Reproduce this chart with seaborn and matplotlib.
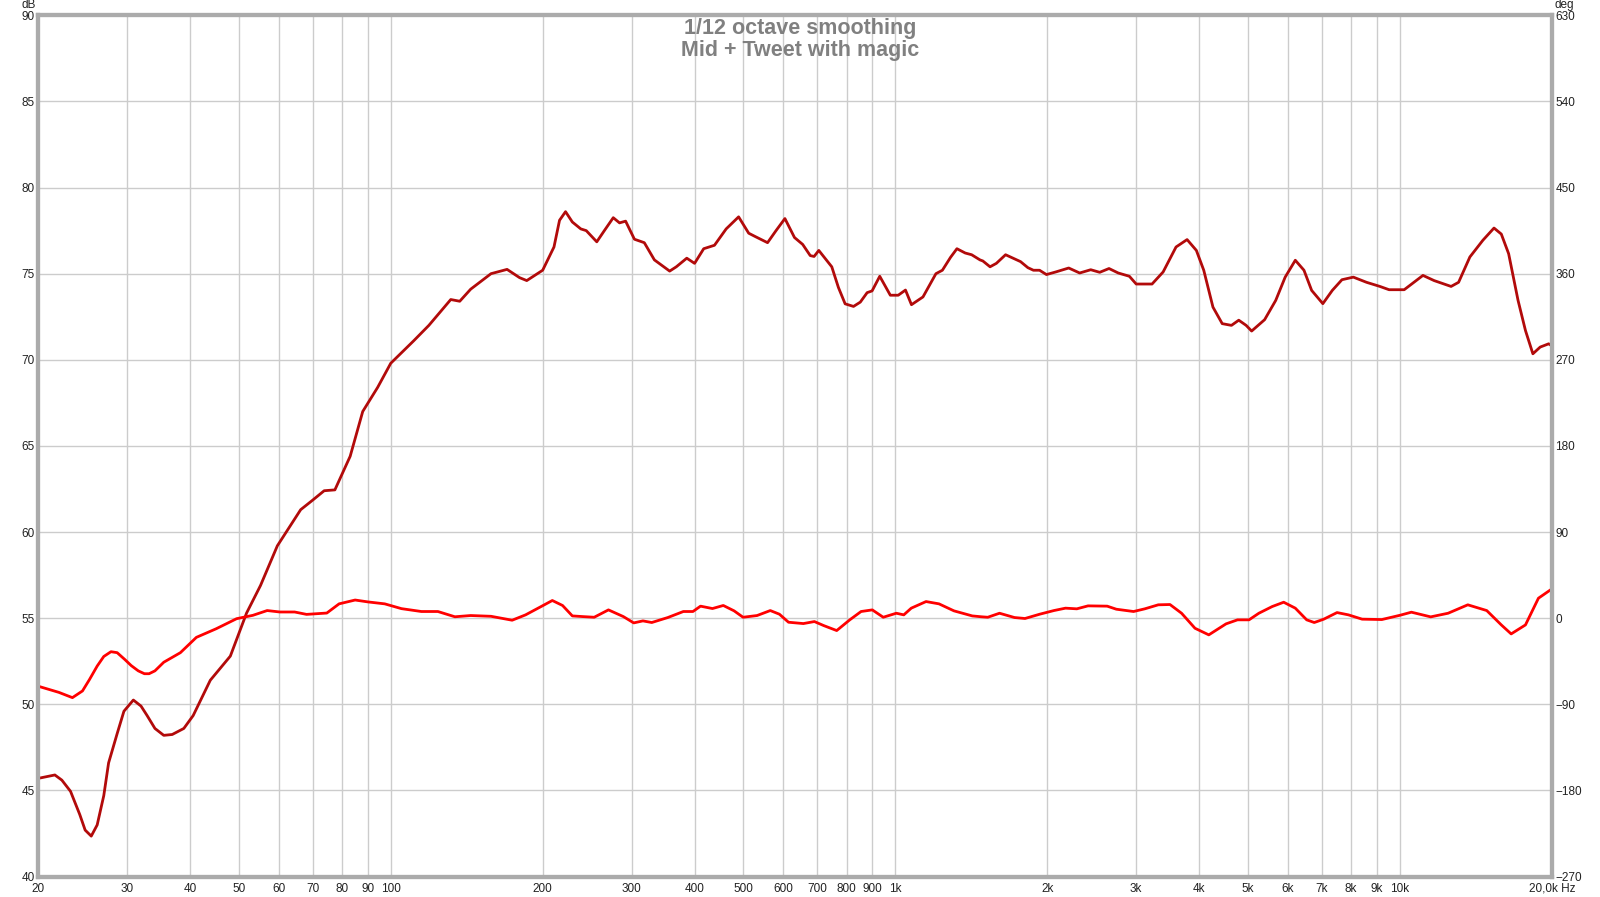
import matplotlib
matplotlib.use("Agg")
import matplotlib.pyplot as plt
import seaborn as sns

# magnitude (dB)
mag_freq = [20, 21.6, 22.3, 23.2, 24.2, 24.8, 25.5, 26.2, 27.0, 27.6, 28.7, 29.6, 30.9, 32.0,
            32.9, 34.1, 35.5, 36.9, 38.9, 40.6, 43.9, 48.1, 51.8,
            55.2, 59.6, 66.3, 70, 73.8, 77.5, 83.1, 88, 94.2, 100, 111, 119, 131.5, 137, 144,
            158, 170, 180, 186, 200, 210.6, 216, 222, 229, 238, 244, 256, 265, 276, 284, 292,
            304, 318, 333, 357, 368, 386, 400, 417, 438, 462, 489, 512, 528, 558, 580, 604,
            631, 655, 678, 690, 705, 725, 748, 771, 795, 826, 852, 879, 899, 931, 977, 1013,
            1047, 1076, 1134, 1203, 1239, 1286, 1324, 1375, 1416, 1471, 1490, 1540, 1585,
            1653, 1770, 1830, 1877, 1930, 1992, 2078, 2205, 2318, 2438, 2540, 2650, 2764,
            2908, 3000, 3225, 3392, 3598, 3784, 3948, 4083, 4258, 4442, 4633, 4790, 4954,
            5080, 5390, 5670, 5920, 6200, 6450, 6680, 7030, 7340, 7670, 8080, 8580, 9120,
            9510, 10190, 10540, 11100, 11680, 12620, 13060, 13750, 14590, 15350, 15870,
            16410, 17130, 17720, 18330, 18950, 19700, 20000]
mag_db = [45.7, 45.9, 45.6, 44.95, 43.6, 42.7, 42.35, 43.0, 44.7, 46.6, 48.3, 49.6, 50.25, 49.9,
          49.35, 48.6, 48.2, 48.25, 48.6, 49.35, 51.4, 52.8, 55.3,
          56.9, 59.2, 61.3, 61.85, 62.4, 62.45, 64.4, 67.0, 68.4, 69.8, 71.1, 72.0, 73.5, 73.4, 74.1,
          75.0, 75.25, 74.77, 74.6, 75.2, 76.55, 78.1, 78.6, 78.0, 77.6, 77.5, 76.85, 77.5, 78.25,
          77.95, 78.05, 77.0, 76.8, 75.8, 75.15, 75.4, 75.9, 75.6, 76.45, 76.65, 77.6, 78.3, 77.35,
          77.15, 76.8, 77.5, 78.2, 77.1, 76.7, 76.05, 76.0, 76.35, 75.9, 75.4, 74.2, 73.25, 73.1,
          73.35, 73.9, 74.0, 74.85, 73.75, 73.75, 74.05, 73.2, 73.65, 75.0, 75.2, 75.95, 76.45,
          76.2, 76.1, 75.8, 75.74, 75.4, 75.6, 76.1, 75.7, 75.35, 75.2, 75.2, 74.95, 75.1, 75.33,
          75.04, 75.23, 75.08, 75.3, 75.04, 74.85, 74.4, 74.4, 75.1, 76.55, 76.98, 76.35, 75.2,
          73.06, 72.1, 72.0, 72.3, 72.0, 71.67, 72.33, 73.45, 74.8, 75.78, 75.2, 74.03, 73.26,
          74.03, 74.65, 74.8, 74.5, 74.26, 74.07, 74.07, 74.4, 74.9, 74.6, 74.26, 74.5, 75.97,
          76.94, 77.65, 77.3, 76.16, 73.45, 71.7, 70.35, 70.74, 70.93, 70.8]

# phase (deg)
phase_freq = [20, 22.0, 23.4, 24.5, 25.3, 26.2, 27.0, 27.9, 28.7, 29.7, 30.6, 31.6, 32.5, 33.2,
              34.1, 35.5, 38.3, 41.2, 45.1, 49.5, 53.3,
              56.9, 60.3, 64.5, 68.1, 74.7, 79, 85, 90.2, 97.3, 105, 115, 124, 134, 144, 158,
              174, 185, 198.6, 209, 219, 229, 240, 253, 270, 289, 303, 316, 329, 354, 380, 397,
              411, 434, 456, 479, 499, 532, 565, 589, 614, 657, 691, 721, 765, 812, 855, 900,
              946, 1004, 1039, 1075, 1150, 1220, 1306, 1420, 1480, 1524, 1608, 1722, 1806,
              1932, 2061, 2173, 2288, 2408, 2628, 2740, 2964, 3120, 3318, 3500, 3690, 3923,
              4178, 4520, 4763, 5020, 5250, 5580, 5880, 6200, 6530, 6760, 7060, 7500, 7900,
              8410, 9200, 10000, 10530, 11500, 12450, 13620, 14850, 15870, 16600, 17720,
              18800, 20000]
phase_deg = [-71, -77.5, -83, -76, -64, -50, -40, -35, -36, -43, -49.5, -55, -58, -58,
             -55, -46, -36, -20, -11, -0.5, 3,
             8, 6.5, 6.5, 4, 5.4, 15, 19, 17, 15, 10, 7, 7, 1.5, 2.8, 2,
             -2.1, 3.5, 12.2, 18.5, 13.3, 2.4, 1.7, 1, 8.7, 1.7, -4.9, -2.8, -4.5, 0.7, 7, 7,
             12.6, 10.1, 13.3, 7.7, 1, 2.8, 8, 4.2, -4.2, -5.6, -3.5, -7.7, -12.9, -1.7, 7, 8.7,
             1, 5.2, 3.5, 10.5, 17.4, 15, 7.7, 2.4, 1.5, 1, 5.2, 0.7, -0.3,
             4.2, 8, 10.5, 9.8, 12.9, 12.6, 9.4, 7, 9.8, 14, 14.3, 5.2, -10.5,
             -17.4, -5.9, -1.7, -1.7, 5.2, 12.2, 16.7, 10.5, -1.7, -4.5, -1, 5.9, 3.5,
             -1, -1.4, 3.1, 6.3, 1.4, 5.2, 14, 8, -7, -16.4, -7,
             20.9, 30.7]

x_ticks = [20, 30, 40, 50, 60, 70, 80, 90, 100, 200, 300, 400, 500, 600, 700, 800, 900,
           1000, 2000, 3000, 4000, 5000, 6000, 7000, 8000, 9000, 10000, 20000]
x_labels = ["20", "30", "40", "50", "60", "70", "80", "90", "100", "200", "300", "400", "500",
            "600", "700", "800", "900", "1k", "2k", "3k", "4k", "5k", "6k", "7k", "8k", "9k",
            "10k", "20,0k Hz"]
db_ticks = list(range(40, 91, 5))
deg_ticks = list(range(-270, 631, 90))

sns.set_style("white")
plt.rcParams['font.family'] = ['Liberation Sans', 'DejaVu Sans']

W, H = 1600, 897
fig = plt.figure(figsize=(W / 100, H / 100), dpi=100)
ax = fig.add_axes([38 / W, 1 - 876.6 / H, (1552 - 38) / W, (876.6 - 15.3) / H])
ax2 = ax.twinx()

sns.lineplot(x=mag_freq, y=mag_db, ax=ax, color='#b20a0a', lw=2, sort=False)
sns.lineplot(x=phase_freq, y=phase_deg, ax=ax2, color='#ff0000', lw=2, sort=False)

ax.set_xscale('log')
ax.set_xlim(20, 20000)
ax.set_ylim(40, 90)
ax.set_xticks(x_ticks, x_labels)
ax.set_yticks(db_ticks)
ax.minorticks_off()
ax.grid(True, color='#cccccc', lw=1)
ax.tick_params(length=0, labelsize=8.5, labelcolor='#222222')
ax.tick_params(axis='y', pad=2.5)
ax.tick_params(axis='x', pad=4.5)

ax2.set_ylim(-270, 630)
ax2.set_yticks(deg_ticks)
ax2.minorticks_off()
ax2.tick_params(length=0, labelsize=8.5, pad=2.5, labelcolor='#222222')
ax2.grid(False)

for a in (ax, ax2):
    for s in a.spines.values():
        s.set_color('#ababab')
        s.set_linewidth(3)

fig.text(800 / W, 1 - 34.3 / H, "1/12 octave smoothing", ha='center', va='baseline',
         fontsize=15.5, fontweight='bold', color='#808080')
fig.text(800 / W, 1 - 56 / H, "Mid + Tweet with magic", ha='center', va='baseline',
         fontsize=15.5, fontweight='bold', color='#808080')
fig.text(29 / W, 1 - 5 / H, "dB", ha='center', va='center', fontsize=8.5, color='#222222')
fig.text(1564 / W, 1 - 5 / H, "deg", ha='center', va='center', fontsize=8.5, color='#222222')

fig.savefig("out.png", dpi=100)
